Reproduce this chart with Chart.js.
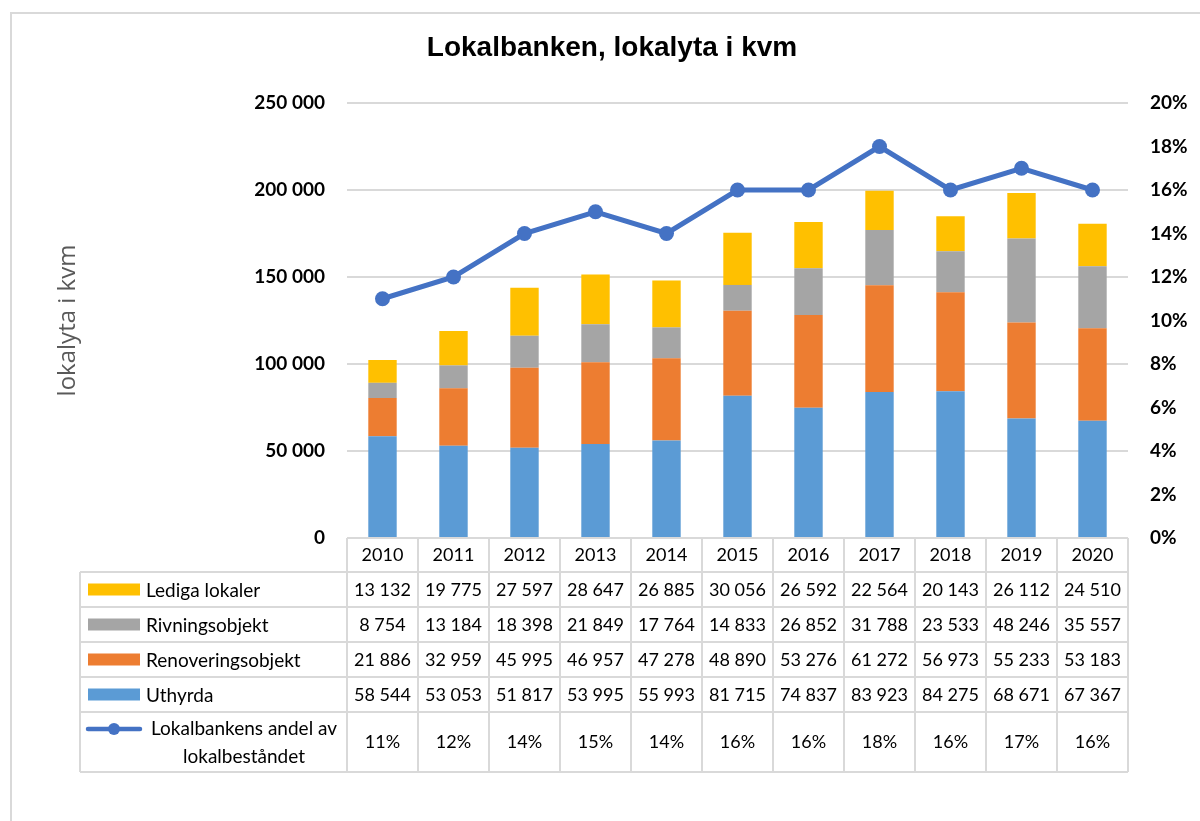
<!DOCTYPE html>
<html>
<head>
<meta charset="utf-8">
<script src="https://cdn.jsdelivr.net/npm/chart.js@4.4.0/dist/chart.umd.min.js"></script>
<style>
  html, body { margin: 0; background: #fff; }
  #wrap { position: relative; width: 1200px; height: 821px; }
</style>
</head>
<body>
<div id="wrap"><canvas id="chart"></canvas></div>
<script>
const years = ['2010', '2011', '2012', '2013', '2014', '2015', '2016', '2017', '2018', '2019', '2020'];
const uthyrda = [58544, 53053, 51817, 53995, 55993, 81715, 74837, 83923, 84275, 68671, 67367];
const renovering = [21886, 32959, 45995, 46957, 47278, 48890, 53276, 61272, 56973, 55233, 53183];
const rivning = [8754, 13184, 18398, 21849, 17764, 14833, 26852, 31788, 23533, 48246, 35557];
const lediga = [13132, 19775, 27597, 28647, 26885, 30056, 26592, 22564, 20143, 26112, 24510];
const andel = [11, 12, 14, 15, 14, 16, 16, 18, 16, 17, 16];

const COLORS = {
    uthyrda: '#5B9BD5',
    renovering: '#ED7D31',
    rivning: '#A5A5A5',
    lediga: '#FFC000',
    andel: '#4472C4'
};

const fmtNum = v => String(v).replace(/\B(?=(\d{3})+(?!\d))/g, ' ');

// frame around the whole chart object
const framePlugin = {
    id: 'frame',
    beforeDraw(chart) {
        const ctx = chart.ctx;
        ctx.save();
        ctx.strokeStyle = '#d9d9d9';
        ctx.lineWidth = 2;
        ctx.strokeRect(11, 13, 1400, 1000);
        ctx.restore();
    }
};

// Excel style data table under the plot
const tablePlugin = {
    id: 'dataTable',
    afterDraw(chart) {
        const { ctx, chartArea: a, scales: { x } } = chart;
        const n = years.length;
        const colW = x.width / n;
        const headTop = a.bottom;
        const headH = 34;
        const rowH = 35;
        const lastH = 60;
        const leftX = 80;

        const rows = [
            { label: 'Lediga lokaler', color: COLORS.lediga, values: lediga.map(fmtNum) },
            { label: 'Rivningsobjekt', color: COLORS.rivning, values: rivning.map(fmtNum) },
            { label: 'Renoveringsobjekt', color: COLORS.renovering, values: renovering.map(fmtNum) },
            { label: 'Uthyrda', color: COLORS.uthyrda, values: uthyrda.map(fmtNum) }
        ];

        const r0 = headTop + headH;
        const lineTop = r0 + rows.length * rowH;
        const bottom = lineTop + lastH;

        ctx.save();
        ctx.strokeStyle = '#d9d9d9';
        ctx.lineWidth = 2;
        ctx.beginPath();
        ctx.moveTo(x.left, headTop); ctx.lineTo(x.right, headTop);
        for (let k = 0; k <= rows.length; k++) {
            const yy = r0 + k * rowH;
            ctx.moveTo(leftX, yy); ctx.lineTo(x.right, yy);
        }
        ctx.moveTo(leftX, bottom); ctx.lineTo(x.right, bottom);
        for (let k = 0; k <= n; k++) {
            const xx = x.left + k * colW;
            ctx.moveTo(xx, headTop); ctx.lineTo(xx, bottom);
        }
        ctx.moveTo(leftX, r0); ctx.lineTo(leftX, bottom);
        ctx.stroke();

        ctx.textBaseline = 'middle';

        rows.forEach((row, r) => {
            const mid = r0 + r * rowH + rowH / 2;
            ctx.fillStyle = row.color;
            ctx.fillRect(88, mid - 6, 52, 12);
            ctx.fillStyle = '#000';
            ctx.textAlign = 'left';
            ctx.font = '19px Lato';
            ctx.fillText(row.label, 146, mid + 1);
            ctx.textAlign = 'center';
            ctx.font = '18px Lato';
            row.values.forEach((v, i) => ctx.fillText(v, x.getPixelForValue(i), mid + 1));
        });

        // line series row
        const ly = lineTop + 17;
        ctx.strokeStyle = COLORS.andel;
        ctx.lineWidth = 4.5;
        ctx.lineCap = 'round';
        ctx.beginPath();
        ctx.moveTo(88, ly); ctx.lineTo(140, ly);
        ctx.stroke();
        ctx.fillStyle = COLORS.andel;
        ctx.beginPath();
        ctx.arc(114, ly, 6, 0, Math.PI * 2);
        ctx.fill();

        ctx.fillStyle = '#000';
        ctx.textAlign = 'center';
        ctx.font = '19px Lato';
        ctx.fillText('Lokalbankens andel av', 244, lineTop + 17);
        ctx.fillText('lokalbeståndet', 244, lineTop + 45);
        ctx.font = '18px Lato';
        andel.forEach((v, i) => ctx.fillText(v + '%', x.getPixelForValue(i), lineTop + lastH / 2));
        ctx.restore();
    }
};

const tickFont = { family: 'Lato', size: 19, weight: 'bold' };

new Chart(document.getElementById('chart'), {
    type: 'bar',
    data: {
        labels: years,
        datasets: [
            {
                type: 'line',
                label: 'Lokalbankens andel av lokalbeståndet',
                data: andel,
                yAxisID: 'y2',
                borderColor: COLORS.andel,
                backgroundColor: COLORS.andel,
                borderWidth: 5,
                pointRadius: 7.5,
                pointBorderWidth: 0,
                tension: 0,
                order: 0
            },
            { label: 'Uthyrda', data: uthyrda, backgroundColor: COLORS.uthyrda, order: 1 },
            { label: 'Renoveringsobjekt', data: renovering, backgroundColor: COLORS.renovering, order: 1 },
            { label: 'Rivningsobjekt', data: rivning, backgroundColor: COLORS.rivning, order: 1 },
            { label: 'Lediga lokaler', data: lediga, backgroundColor: COLORS.lediga, order: 1 }
        ]
    },
    options: {
        responsive: true,
        maintainAspectRatio: false,
        animation: false,
        datasets: {
            bar: { barPercentage: 0.4, categoryPercentage: 1, borderWidth: 0 }
        },
        layout: { padding: { left: 24, right: 0, top: 14, bottom: 249 } },
        plugins: {
            legend: { display: false },
            tooltip: { enabled: false },
            title: {
                display: true,
                text: 'Lokalbanken, lokalyta i kvm',
                color: '#000',
                font: { family: 'Liberation Sans', size: 28, weight: 'bold' },
                padding: { top: 17, bottom: 38.4 }
            }
        },
        scales: {
            x: {
                stacked: true,
                grid: { display: false, drawTicks: false },
                border: { display: false },
                ticks: { color: '#000', font: { family: 'Lato', size: 18 }, padding: 6 },
                afterFit: s => { s.height = 34; }
            },
            y: {
                stacked: true,
                min: 0,
                max: 250000,
                ticks: {
                    stepSize: 50000,
                    color: '#000',
                    font: tickFont,
                    padding: 22,
                    callback: v => fmtNum(v)
                },
                grid: { color: '#d9d9d9', lineWidth: 2, drawTicks: false },
                border: { display: false },
                title: {
                    display: true,
                    text: 'lokalyta i kvm',
                    color: '#595959',
                    font: { family: 'Open Sans', size: 24 },
                    padding: { top: 30, bottom: 0 }
                },
                afterFit: s => { s.width = 323; }
            },
            y2: {
                position: 'right',
                min: 0,
                max: 20,
                ticks: {
                    stepSize: 2,
                    color: '#000',
                    font: tickFont,
                    padding: 22,
                    callback: v => v + '%'
                },
                grid: { display: false, drawTicks: false },
                border: { display: false },
                afterFit: s => { s.width = 72; }
            }
        }
    },
    plugins: [framePlugin, tablePlugin]
});
</script>
</body>
</html>
